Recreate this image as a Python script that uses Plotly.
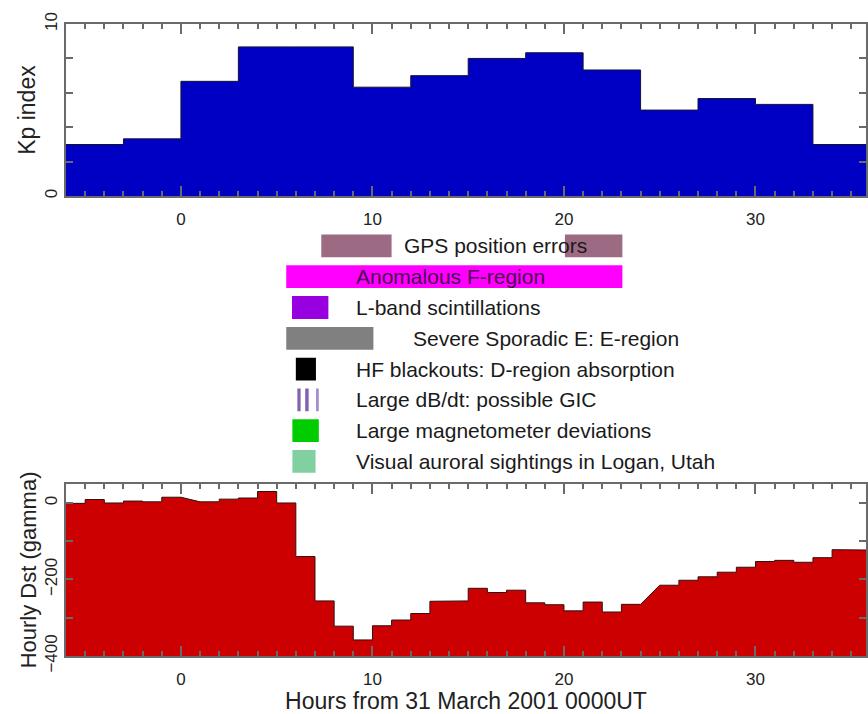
import numpy as np
import plotly.graph_objects as go

# ---- Kp index, 3-hour bins starting at -6 h ----
kp_start = -6
kp_values = [3.0, 3.33, 6.67, 8.67, 8.67, 6.33, 7.0, 8.0, 8.33, 7.33, 5.0, 5.67, 5.33, 3.0]

# ---- Hourly Dst (gamma), hours -6 .. 35 (None = missing hour, bridged by a straight line) ----
dst_start = -6
dst_values = [-1, 9, 0, 5, 3, 15, None, 3, 10, 13, 30, 0,
              -140, -256, -322, -358, -321, -306, -289, -257, -256, -223,
              -234, -228, -261, -266, -282, -259, -285, -265, None, -215,
              -202, -193, -181, -168, -153, -150, -155, -143, -122, -123]

# ---- Space-weather effects (hours from 31 March 2001 0000UT) ----
effect_labels = ["GPS position errors",
                 "Anomalous F-region",
                 "L-band scintillations",
                 "Severe Sporadic E: E-region",
                 "HF blackouts: D-region absorption",
                 "Large dB/dt: possible GIC",
                 "Large magnetometer deviations",
                 "Visual auroral sightings in Logan, Utah"]
effect_intervals = [[(7.33, 11.0), (20.05, 23.05)],
                    [(5.5, 23.05)],
                    [(5.8, 7.7)],
                    [(5.5, 10.05)],
                    [(6.0, 7.05)],
                    [(6.08, 6.25), (6.49, 6.67), (7.10, 7.20)],
                    [(5.82, 7.2)],
                    [(5.82, 7.03)]]
effect_colors = [["#9c6a82", "#9c6a82"], ["#ff00ff"], ["#9900e0"], ["#808080"],
                 ["#000000"], ["#8462b0", "#8462b0", "#a890cc"], ["#00cc00"],
                 ["#80d0a0"]]
label_x = [11.56, 9.06, 9.06, 12.03, 9.06, 9.06, 9.06, 9.06]
label_colors = ["#1a1a1a", "#4a0a50", "#1a1a1a", "#1a1a1a",
                "#1a1a1a", "#1a1a1a", "#1a1a1a", "#1a1a1a"]

FONT = "Liberation Sans, Arial, Helvetica, sans-serif"
AX = "#6a6a6a"
TXT = "#222222"
X_RANGE = [-6, 35.77]

fig = go.Figure()

# Kp step histogram
kp_x = list(kp_start + 3 * np.arange(len(kp_values) + 1))
kp_y = kp_values + [kp_values[-1]]
fig.add_trace(go.Scatter(x=kp_x, y=kp_y, mode="lines", line_shape="hv",
                         line=dict(color="#151530", width=1),
                         fill="tozeroy", fillcolor="#0000c4",
                         xaxis="x", yaxis="y", hoverinfo="skip"))

# Dst outline: flat for each hour, straight bridge over missing hours
dx, dy = [], []
for i, v in enumerate(dst_values):
    if v is None:
        continue
    h = dst_start + i
    dx += [h, h + 1]
    dy += [v, v]
fig.add_trace(go.Scatter(x=[dx[0], dx[-1]], y=[-400, -400], mode="lines",
                         line=dict(width=0), xaxis="x2", yaxis="y2",
                         hoverinfo="skip"))
fig.add_trace(go.Scatter(x=dx, y=dy, mode="lines",
                         line=dict(color="#301010", width=1),
                         fill="tonexty", fillcolor="#cc0000",
                         xaxis="x2", yaxis="y2", hoverinfo="skip"))

# Effect bars
for r, (ivs, cols) in enumerate(zip(effect_intervals, effect_colors)):
    fig.add_trace(go.Bar(orientation="h",
                         y=[r] * len(ivs),
                         base=[a for a, b in ivs],
                         x=[b - a for a, b in ivs],
                         width=0.74, marker=dict(color=cols, line=dict(width=0)),
                         xaxis="x3", yaxis="y3", hoverinfo="skip"))

for r, (txt, lx, lc) in enumerate(zip(effect_labels, label_x, label_colors)):
    fig.add_annotation(x=lx, y=r, xref="x3", yref="y3", text=txt,
                       showarrow=False, xanchor="left", yanchor="middle",
                       font=dict(family=FONT, size=21, color=lc))

xcommon = dict(range=X_RANGE, showline=True, linecolor=AX, linewidth=1.5,
               mirror="allticks", ticks="inside", ticklen=10, tickwidth=1.5,
               tickcolor=AX, dtick=10, tick0=0, showgrid=False, zeroline=False,
               minor=dict(dtick=1, tick0=0, ticks="inside", ticklen=5,
                          tickwidth=1.5, tickcolor=AX, showgrid=False),
               tickfont=dict(family=FONT, size=17, color=TXT),
               ticklabelstandoff=7)

ycommon = dict(showline=True, linecolor=AX, linewidth=1.5, mirror="allticks",
               ticks="inside", ticklen=7, tickwidth=1.5, tickcolor=AX,
               tickangle=-90, showgrid=False, zeroline=False,
               tickfont=dict(family=FONT, size=17, color=TXT))

top_dom = [0.7276, 1.0]
bot_dom = [0.0, 0.2724]

fig.update_layout(
    width=868, height=714,
    margin=dict(l=66, r=0, t=24, b=55),
    paper_bgcolor="white", plot_bgcolor="white",
    showlegend=False, barmode="overlay",
    font=dict(family=FONT, color=TXT),
    xaxis=dict(**xcommon, domain=[0, 1], anchor="y"),
    yaxis=dict(**ycommon, domain=top_dom, range=[0, 10], anchor="x",
               tickvals=[0, 10],
               minor=dict(dtick=2, tick0=0, ticks="inside", ticklen=7,
                          tickwidth=1.5, tickcolor=AX, showgrid=False),
               title=dict(text="Kp index", standoff=0,
                          font=dict(family=FONT, size=23, color=TXT))),
    xaxis2=dict(**xcommon, domain=[0, 1], anchor="y2",
                title=dict(text="Hours from 31 March 2001 0000UT", standoff=9,
                           font=dict(family=FONT, size=23, color=TXT))),
    yaxis2=dict(**ycommon, domain=bot_dom, range=[-400, 50], anchor="x2",
                tickvals=[-400, -200, 0],
                minor=dict(dtick=100, tick0=0, ticks="inside", ticklen=7,
                           tickwidth=1.5, tickcolor=AX, showgrid=False),
                title=dict(text="Hourly Dst (gamma)", standoff=0,
                           font=dict(family=FONT, size=22, color=TXT))),
    xaxis3=dict(matches="x", range=X_RANGE, domain=[0, 1], anchor="y3",
                visible=False),
    yaxis3=dict(domain=[0.2835, 0.6732], range=[7.5, -0.5], anchor="x3",
                visible=False),
)

fig.write_html("out.html")
